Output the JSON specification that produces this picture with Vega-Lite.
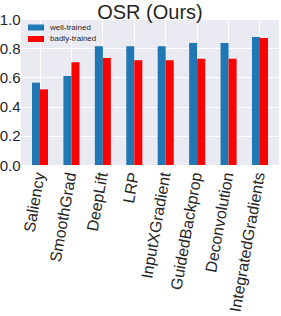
{
  "$schema": "https://vega.github.io/schema/vega-lite/v6.json",
  "width": 258,
  "height": 146,
  "autosize": {"type": "none"},
  "padding": {"left": 21, "top": 19, "right": 2, "bottom": 151},
  "background": "white",
  "title": {"text": "OSR (Ours)", "fontSize": 20, "font": "Liberation Sans", "fontWeight": "normal", "color": "#262626", "offset": -11, "anchor": "middle"},
  "data": {"values": [
    {"method": "Saliency", "model": "well-trained", "value": 0.564},
    {"method": "Saliency", "model": "badly-trained", "value": 0.518},
    {"method": "SmoothGrad", "model": "well-trained", "value": 0.61},
    {"method": "SmoothGrad", "model": "badly-trained", "value": 0.703},
    {"method": "DeepLift", "model": "well-trained", "value": 0.813},
    {"method": "DeepLift", "model": "badly-trained", "value": 0.733},
    {"method": "LRP", "model": "well-trained", "value": 0.813},
    {"method": "LRP", "model": "badly-trained", "value": 0.717},
    {"method": "InputXGradient", "model": "well-trained", "value": 0.813},
    {"method": "InputXGradient", "model": "badly-trained", "value": 0.717},
    {"method": "GuidedBackprop", "model": "well-trained", "value": 0.836},
    {"method": "GuidedBackprop", "model": "badly-trained", "value": 0.728},
    {"method": "Deconvolution", "model": "well-trained", "value": 0.836},
    {"method": "Deconvolution", "model": "badly-trained", "value": 0.728},
    {"method": "IntegratedGradients", "model": "well-trained", "value": 0.877},
    {"method": "IntegratedGradients", "model": "badly-trained", "value": 0.870}
  ]},
  "mark": {"type": "bar"},
  "encoding": {
    "x": {"field": "method", "type": "nominal", "sort": null, "title": null,
      "scale": {"paddingInner": 0.49, "paddingOuter": 0.35},
      "axis": {"labelAngle": -80, "labelFontSize": 16, "labelFont": "Liberation Sans", "labelColor": "#262626", "labelAlign": "right", "labelBaseline": "middle", "labelPadding": 7, "domain": false, "ticks": false, "grid": true, "gridColor": "white", "gridWidth": 1, "bandPosition": 0.5, "labelOverlap": false, "labelBound": false,
        "encode": {"labels": {"update": {
          "dx": {"signal": "0.174*(datum.value=='Saliency'?5.3:datum.value=='SmoothGrad'?7.9:datum.value=='DeepLift'?5.2:datum.value=='LRP'?2.7:datum.value=='InputXGradient'?9.4:datum.value=='GuidedBackprop'?10.4:datum.value=='Deconvolution'?8.8:12.3)"},
          "dy": {"signal": "0.985*(datum.value=='Saliency'?5.3:datum.value=='SmoothGrad'?7.9:datum.value=='DeepLift'?5.2:datum.value=='LRP'?2.7:datum.value=='InputXGradient'?9.4:datum.value=='GuidedBackprop'?10.4:datum.value=='Deconvolution'?8.8:12.3)"}}}}}},
    "xOffset": {"field": "model", "type": "nominal", "sort": ["well-trained", "badly-trained"], "scale": {"paddingInner": 0, "paddingOuter": 0}},
    "y": {"field": "value", "type": "quantitative", "title": null,
      "scale": {"domain": [0, 1], "nice": false},
      "axis": {"values": [0, 0.2, 0.4, 0.6, 0.8, 1.0], "format": ".1f", "labelFontSize": 15, "labelFont": "Liberation Sans", "labelColor": "#262626", "labelPadding": 1, "domain": false, "ticks": false, "gridColor": "white", "gridWidth": 1}},
    "color": {"field": "model", "type": "nominal", "title": null,
      "scale": {"domain": ["well-trained", "badly-trained"], "range": ["#1f77b4", "#ff0000"]},
      "legend": {"orient": "none", "legendX": 11, "legendY": 4.5, "padding": 0, "symbolType": "M-2,-0.75H2V0.75H-2Z", "symbolSize": 64, "symbolStrokeWidth": 0, "labelFontSize": 8, "labelFont": "Liberation Sans", "labelColor": "#262626", "rowPadding": 3.5, "labelOffset": 10}}
  },
  "config": {
    "view": {"fill": "#EAEAF2", "stroke": null}
  }
}
